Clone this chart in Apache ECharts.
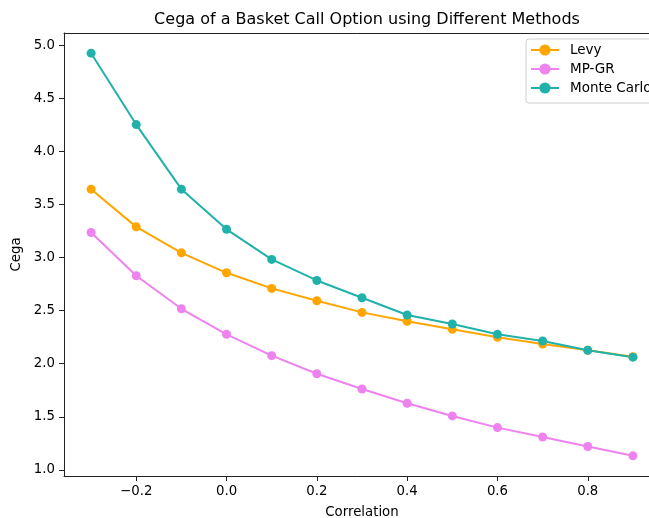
<!DOCTYPE html>
<html>
<head>
<meta charset="utf-8">
<script src="https://cdn.jsdelivr.net/npm/echarts@6/dist/echarts.min.js"></script>
<style>html,body{margin:0;padding:0;background:#fff;overflow:hidden;}#c{width:649px;height:518px;}</style>
</head>
<body>
<div id="c"></div>
<script>
const correlation = [-0.3, -0.2, -0.1, 0.0, 0.1, 0.2, 0.3, 0.4, 0.5, 0.6, 0.7, 0.8, 0.9];
const levy = [3.645, 3.29, 3.045, 2.857, 2.71, 2.594, 2.484, 2.40, 2.324, 2.249, 2.186, 2.127, 2.066];
const mpgr = [3.237, 2.829, 2.518, 2.277, 2.076, 1.906, 1.762, 1.628, 1.508, 1.398, 1.31, 1.22, 1.132];
const monteCarlo = [4.927, 4.254, 3.645, 3.267, 2.983, 2.785, 2.622, 2.459, 2.374, 2.277, 2.214, 2.127, 2.062];
const xTicks = [-0.2, 0.0, 0.2, 0.4, 0.6, 0.8];
const yTicks = [1.0, 1.5, 2.0, 2.5, 3.0, 3.5, 4.0, 4.5, 5.0];

const FONT = 'DejaVu Sans';
const fmt = v => v.toFixed(1).replace('-', '\u2212');
function pairs(ys) { return correlation.map((x, i) => [x, ys[i]]); }
function mkSeries(name, color, ys) {
  return {
    name: name, type: 'line', data: pairs(ys), symbol: 'circle', symbolSize: 9,
    showSymbol: true, lineStyle: { color: color, width: 2 },
    itemStyle: { color: color, borderColor: color, borderWidth: 0 },
    emphasis: { disabled: true }, animation: false
  };
}
const chart = echarts.init(document.getElementById('c'), null, { renderer: 'canvas' });
chart.setOption({
  animation: false,
  backgroundColor: '#fff',
  title: {
    text: 'Cega of a Basket Call Option using Different Methods',
    left: 362, top: 7, textAlign: 'center',
    textStyle: { fontFamily: FONT, fontSize: 16, fontWeight: 'normal', color: '#000' }
  },
  legend: {
    orient: 'vertical', left: 526, top: 39,
    padding: [4, 24, 8, 4], itemGap: 5, itemWidth: 28, itemHeight: 14,
    borderColor: '#d0d0d0', borderWidth: 1, borderRadius: 3,
    textStyle: { fontFamily: FONT, fontSize: 13.5, color: '#000', padding: [0, 0, 0, 6] },
    data: ['Levy', 'MP-GR', 'Monte Carlo']
  },
  grid: { left: 64, top: 33, width: 596, height: 443, outerBoundsMode: 'none', containLabel: false, show: false },
  xAxis: [{
    type: 'value', min: -0.36, max: 0.96,
    name: 'Correlation', nameLocation: 'middle', nameGap: 30,
    nameTextStyle: { fontFamily: FONT, fontSize: 13.3, color: '#000' },
    axisLine: { show: true, onZero: false, lineStyle: { color: '#222', width: 1 } },
    axisTick: { show: true, inside: false, length: 5, lineStyle: { color: '#222' }, customValues: xTicks },
    axisLabel: { margin: 9, fontFamily: FONT, fontSize: 13.3, color: '#000', customValues: xTicks, formatter: fmt },
    splitLine: { show: false }
  }, {
    type: 'value', position: 'top', min: -0.36, max: 0.96,
    axisLine: { show: true, onZero: false, lineStyle: { color: '#222', width: 1 } },
    axisTick: { show: false }, axisLabel: { show: false }, splitLine: { show: false }
  }],
  yAxis: {
    type: 'value', min: 0.942, max: 5.117,
    name: 'Cega', nameLocation: 'middle', nameGap: 32,
    nameTextStyle: { fontFamily: FONT, fontSize: 13.3, color: '#000' },
    axisLine: { show: true, onZero: false, lineStyle: { color: '#222', width: 1 } },
    axisTick: { show: true, inside: false, length: 5, lineStyle: { color: '#222' }, customValues: yTicks },
    axisLabel: { margin: 9, fontFamily: FONT, fontSize: 13.3, color: '#000', customValues: yTicks, formatter: fmt },
    splitLine: { show: false }
  },
  series: [
    mkSeries('Levy', '#FFA500', levy),
    mkSeries('MP-GR', '#EE82EE', mpgr),
    mkSeries('Monte Carlo', '#20B2AA', monteCarlo)
  ]
});
</script>
</body>
</html>
